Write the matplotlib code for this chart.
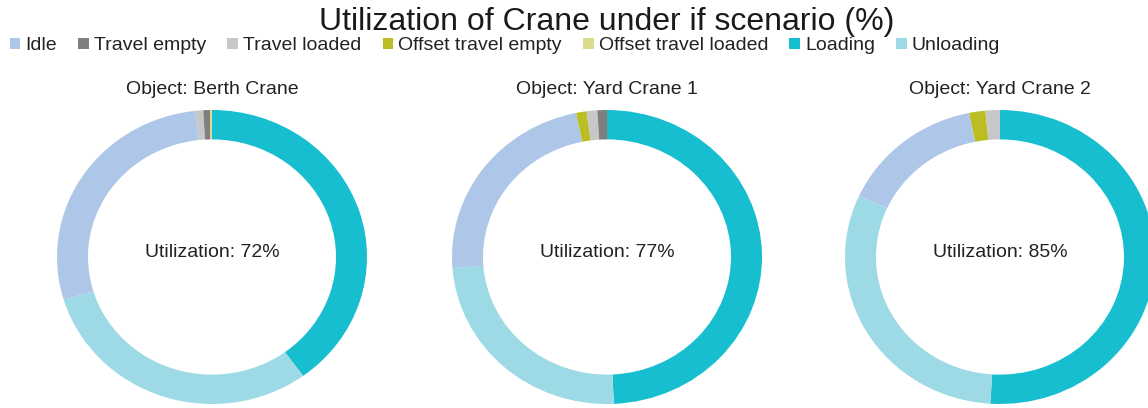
import matplotlib
matplotlib.use("Agg")
import matplotlib.pyplot as plt
from matplotlib.patches import Patch

plt.rcParams['font.family'] = ['Liberation Sans', 'DejaVu Sans']

# Series in legend order
series = ["Idle", "Travel empty", "Travel loaded", "Offset travel empty",
          "Offset travel loaded", "Loading", "Unloading"]
colors = {
    "Idle": "#aec7e8",
    "Travel empty": "#7f7f7f",
    "Travel loaded": "#c7c7c7",
    "Offset travel empty": "#bcbd22",
    "Offset travel loaded": "#dbdb8d",
    "Loading": "#17becf",
    "Unloading": "#9edae5",
}

# Drawing order around each ring (clockwise from the top)
ring_order = ["Loading", "Unloading", "Idle", "Offset travel empty",
              "Travel loaded", "Travel empty", "Offset travel loaded"]

objects = ["Berth Crane", "Yard Crane 1", "Yard Crane 2"]
utilization = [72, 77, 85]

# Share of time per state (%), in ring_order
berth_crane = [40.0, 30.3, 28.0, 0.0, 0.8, 0.7, 0.2]
yard_crane_1 = [49.3, 24.5, 23.0, 1.1, 1.1, 1.0, 0.0]
yard_crane_2 = [51.0, 30.8, 15.0, 1.7, 1.5, 0.0, 0.0]
shares = [berth_crane, yard_crane_1, yard_crane_2]

W, H = 1148, 408
fig = plt.figure(figsize=(W / 100, H / 100), dpi=100)

centers_x = [212, 607, 1000]
center_y = 257
rx, ry = 155, 147
text_color = "#222222"

for cx, name, util, vals in zip(centers_x, objects, utilization, shares):
    ax = fig.add_axes([(cx - rx) / W, 1 - (center_y + ry) / H, 2 * rx / W, 2 * ry / H])
    ax.pie(vals, colors=[colors[s] for s in ring_order], startangle=90,
           counterclock=False, radius=1.0,
           wedgeprops=dict(width=0.2, linewidth=0))
    ax.set_aspect('auto')
    ax.set_xlim(-1, 1)
    ax.set_ylim(-1, 1)
    ax.axis('off')
    ax.text(0, 0.03, f"Utilization: {util}%", ha='center', va='center',
            fontsize=14, color=text_color)
    fig.text(cx / W, 1 - 90 / H, f"Object: {name}", ha='center', va='center',
             fontsize=14, color=text_color)

fig.text(607 / W, 1 - 22 / H, "Utilization of Crane under if scenario (%)",
         ha='center', va='center', fontsize=23, color="#1a1a1a")

handles = [Patch(facecolor=colors[s], edgecolor='none', label=s) for s in series]
fig.legend(handles=handles, loc='center', bbox_to_anchor=(505 / W, 1 - 46 / H),
           ncol=7, frameon=False, fontsize=14, handlelength=0.55, handleheight=0.55,
           handletextpad=0.25, columnspacing=1.1, borderaxespad=0,
           labelcolor=text_color)

fig.savefig("out.png", dpi=100)
